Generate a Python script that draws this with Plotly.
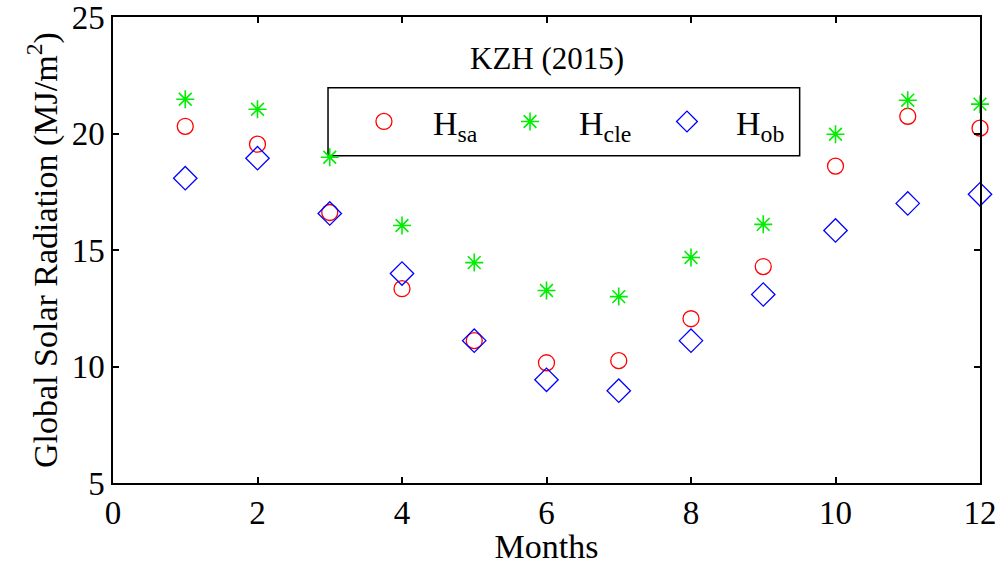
import plotly.graph_objects as go

months = [1, 2, 3, 4, 5, 6, 7, 8, 9, 10, 11, 12]
H_sa = [20.31, 19.54, 16.61, 13.34, 11.11, 10.16, 10.25, 12.05, 14.29, 18.60, 20.74, 20.23]
H_cle = [21.47, 21.04, 18.98, 16.05, 14.46, 13.26, 13.00, 14.68, 16.10, 19.97, 21.43, 21.26]
H_ob = [18.08, 18.94, 16.57, 13.99, 11.11, 9.43, 8.96, 11.11, 13.09, 15.84, 17.00, 17.39]
x_ticks = [0, 2, 4, 6, 8, 10, 12]
y_ticks = [5, 10, 15, 20, 25]

FONT = "Liberation Serif, Times New Roman, serif"

fig = go.Figure()
fig.add_trace(go.Scatter(x=months, y=H_sa, mode="markers", name="H<sub>sa</sub>", legend="legend",
                         cliponaxis=False,
                         marker=dict(symbol="circle-open", size=16, color="#ff0000",
                                     line=dict(width=1.3, color="#ff0000"))))
fig.add_trace(go.Scatter(x=months, y=H_cle, mode="markers", name="H<sub>cle</sub>", legend="legend2",
                         cliponaxis=False,
                         marker=dict(symbol="asterisk-open", size=15, color="#00ee00",
                                     line=dict(width=1.6, color="#00ee00"))))
fig.add_trace(go.Scatter(x=months, y=H_ob, mode="markers", name="H<sub>ob</sub>", legend="legend3",
                         cliponaxis=False,
                         marker=dict(symbol="diamond-open", size=18, color="#0000ff",
                                     line=dict(width=1.3, color="#0000ff"))))

axis_common = dict(showline=True, linecolor="black", linewidth=1.5, mirror="ticks",
                   ticks="inside", ticklen=6, tickwidth=1.5, tickcolor="black",
                   showgrid=False, zeroline=False, automargin=False,
                   ticklabeloverflow="allow",
                   tickfont=dict(family=FONT, size=33, color="black"))

fig.update_xaxes(range=[0, 12], tickvals=x_ticks,
                 title=dict(text="Months", font=dict(family=FONT, size=34, color="black"), standoff=0),
                 **axis_common)
fig.update_yaxes(range=[5, 25], tickvals=y_ticks,
                 title=dict(text="Global Solar Radiation (MJ/m<sup>2</sup>)",
                            font=dict(family=FONT, size=34, color="black"), standoff=4),
                 **axis_common)

fig.add_annotation(text="KZH (2015)", xref="paper", yref="paper", x=0.5, y=0.912,
                   xanchor="center", yanchor="middle", showarrow=False,
                   font=dict(family=FONT, size=31, color="black"))

fig.add_shape(type="rect", xref="paper", yref="paper", x0=0.248, x1=0.792, y0=0.702, y1=0.848,
              line=dict(color="black", width=1.5), fillcolor="white", layer="below")

leg_common = dict(orientation="v", yanchor="middle", xanchor="left", y=0.775,
                  bgcolor="rgba(0,0,0,0)", borderwidth=0, itemwidth=88,
                  font=dict(family=FONT, size=34, color="black"))

fig.update_layout(
    width=999, height=565,
    margin=dict(l=113, r=19, t=17, b=82, autoexpand=False),
    paper_bgcolor="white", plot_bgcolor="white",
    showlegend=True,
    legend=dict(x=0.256, **leg_common),
    legend2=dict(x=0.4245, **leg_common),
    legend3=dict(x=0.6055, **leg_common),
)

fig.write_html("out.html")
